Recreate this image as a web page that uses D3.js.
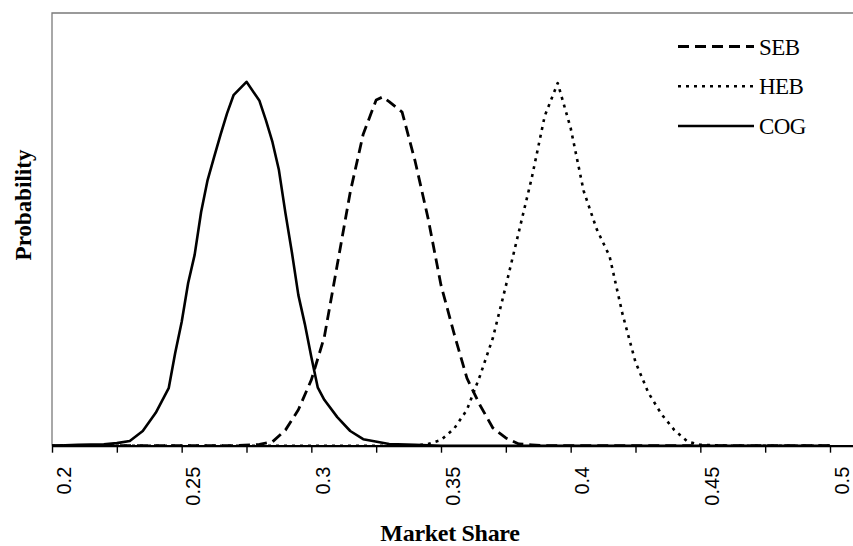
<!DOCTYPE html>
<html>
<head>
<meta charset="utf-8">
<script src="https://cdn.jsdelivr.net/npm/d3@7"></script>
<style>
  html, body { margin: 0; padding: 0; background: #fff; }
</style>
</head>
<body>
<svg id="chart"></svg>
<script>
// market share values (x) and probability (y), one pair of arrays per series
const cogX = [0.20, 0.21, 0.22, 0.225, 0.23, 0.235, 0.24, 0.245, 0.2475, 0.25, 0.2525, 0.255, 0.2575, 0.26, 0.2625, 0.265, 0.2675, 0.27, 0.275, 0.28, 0.2825, 0.285, 0.2875, 0.29, 0.2925, 0.295, 0.2975, 0.30, 0.3025, 0.305, 0.31, 0.315, 0.32, 0.33, 0.34, 0.35, 0.50];
const cogY = [0, 0.0002, 0.0003, 0.0006, 0.0011, 0.0034, 0.0076, 0.0133, 0.0214, 0.0286, 0.0376, 0.0441, 0.0540, 0.0614, 0.0667, 0.0719, 0.0768, 0.0810, 0.0841, 0.0797, 0.0752, 0.0702, 0.0637, 0.0538, 0.0447, 0.0348, 0.0281, 0.0205, 0.0134, 0.0106, 0.0066, 0.0034, 0.0015, 0.0004, 0.0002, 0, 0];

const sebX = [0.20, 0.27, 0.28, 0.285, 0.29, 0.295, 0.30, 0.305, 0.31, 0.315, 0.32, 0.325, 0.3275, 0.33, 0.335, 0.34, 0.345, 0.35, 0.355, 0.36, 0.365, 0.37, 0.375, 0.38, 0.385, 0.39, 0.50];
const sebY = [0, 0, 0.0003, 0.0009, 0.0036, 0.0083, 0.0152, 0.0251, 0.0418, 0.0586, 0.0720, 0.0799, 0.0806, 0.0795, 0.0771, 0.0658, 0.0526, 0.0371, 0.0260, 0.0156, 0.0094, 0.0041, 0.0018, 0.0004, 0.0002, 0, 0];

const hebX = [0.20, 0.34, 0.345, 0.35, 0.355, 0.36, 0.365, 0.37, 0.375, 0.38, 0.385, 0.39, 0.395, 0.40, 0.405, 0.41, 0.415, 0.42, 0.425, 0.43, 0.435, 0.44, 0.445, 0.45, 0.46, 0.50];
const hebY = [0, 0, 0.0004, 0.0013, 0.0039, 0.0083, 0.0161, 0.0249, 0.0369, 0.0494, 0.0619, 0.0762, 0.0838, 0.0734, 0.0589, 0.0501, 0.0438, 0.0304, 0.0193, 0.0122, 0.0073, 0.0036, 0.0010, 0.0002, 0, 0];

const seriesNames = ["SEB", "HEB", "COG"];
const tickValues = [0.2, 0.225, 0.25, 0.275, 0.3, 0.325, 0.35, 0.375, 0.4, 0.425, 0.45, 0.475, 0.5];
const tickLabels = ["0.2", "0.25", "0.3", "0.35", "0.4", "0.45", "0.5"];

const width = 853;
const height = 546;
const marginLeft = 52;   // left edge of plot area
const marginTop = 13;
const plotRight = 853;   // plot runs off the right edge
const plotBottom = 445.7;
const xLabel = "Market Share";
const yLabel = "Probability";

const series = [
  { name: "SEB", x: sebX, y: sebY, dash: "11,6", w: 2.8 },
  { name: "HEB", x: hebX, y: hebY, dash: "3,5", w: 2.6 },
  { name: "COG", x: cogX, y: cogY, dash: null, w: 2.6 }
];

// 0.2 -> 52, 0.5 -> 830, so the right edge sits a bit past 0.5
const pxPerUnit = (830 - marginLeft) / 0.3;
const xScale = d3.scaleLinear()
  .domain([0.2, 0.2 + (plotRight - marginLeft) / pxPerUnit])
  .range([marginLeft, plotRight]);
const yScale = d3.scaleLinear().domain([0, 0.1]).range([plotBottom, marginTop]);

const svg = d3.select("#chart")
  .attr("width", width)
  .attr("height", height)
  .attr("viewBox", [0, 0, width, height]);

svg.append("rect").attr("width", width).attr("height", height).attr("fill", "#fff");

// plot frame (left + top, grey)
svg.append("path")
  .attr("d", `M${marginLeft},${plotBottom}V${marginTop}H${plotRight}`)
  .attr("fill", "none")
  .attr("stroke", "#7a7a7a")
  .attr("stroke-width", 1.3);

// curves
const line = d3.line().x(d => xScale(d[0])).y(d => yScale(d[1]));
svg.append("g")
  .selectAll("path")
  .data(series)
  .join("path")
    .attr("d", s => line(s.x.map((v, i) => [v, s.y[i]])))
    .attr("fill", "none")
    .attr("stroke", "#000")
    .attr("stroke-width", s => s.w)
    .attr("stroke-dasharray", s => s.dash)
    .attr("stroke-linejoin", "round");

// x axis
const labelFor = v => tickLabels.find(t => Math.abs(+t - v) < 1e-9) || "";
const xAxis = d3.axisBottom(xScale).tickValues(tickValues).tickFormat(labelFor).tickSize(7).tickSizeOuter(0);
svg.append("g")
  .attr("transform", `translate(0,${plotBottom})`)
  .call(xAxis)
  .call(g => g.select(".domain").attr("stroke", "#000").attr("stroke-width", 2.2))
  .call(g => g.selectAll(".tick line").attr("stroke", "#000").attr("stroke-width", 1.4))
  .call(g => g.selectAll(".tick text")
      .attr("transform", "rotate(-90)")
      .attr("text-anchor", "end")
      .attr("x", -21)
      .attr("y", 18)
      .attr("dy", null)
      .attr("fill", "#000")
      .attr("font-family", "'Liberation Sans', Arial, sans-serif")
      .attr("font-size", 20));

// axis titles
svg.append("text")
  .attr("x", 450)
  .attr("y", 541)
  .attr("text-anchor", "middle")
  .attr("font-family", "'Liberation Serif', 'Times New Roman', serif")
  .attr("font-weight", "bold")
  .attr("font-size", 24)
  .attr("letter-spacing", -0.3)
  .text(xLabel);

svg.append("text")
  .attr("transform", "translate(31,205) rotate(-90)")
  .attr("text-anchor", "middle")
  .attr("font-family", "'Liberation Serif', 'Times New Roman', serif")
  .attr("font-weight", "bold")
  .attr("font-size", 23)
  .text(yLabel);

// legend
const legendY = d3.scalePoint().domain(seriesNames).range([46.5, 126]);
const legend = svg.append("g")
  .selectAll("g")
  .data(series)
  .join("g")
    .attr("transform", s => `translate(678,${legendY(s.name)})`);
legend.append("line")
  .attr("x1", 0).attr("x2", 76)
  .attr("stroke", "#000")
  .attr("stroke-width", s => s.w)
  .attr("stroke-dasharray", s => s.dash);
legend.append("text")
  .attr("x", 81)
  .attr("y", 8)
  .attr("font-family", "'Liberation Serif', 'Times New Roman', serif")
  .attr("font-size", 23)
  .attr("letter-spacing", -0.6)
  .text(s => s.name);
</script>
</body>
</html>
